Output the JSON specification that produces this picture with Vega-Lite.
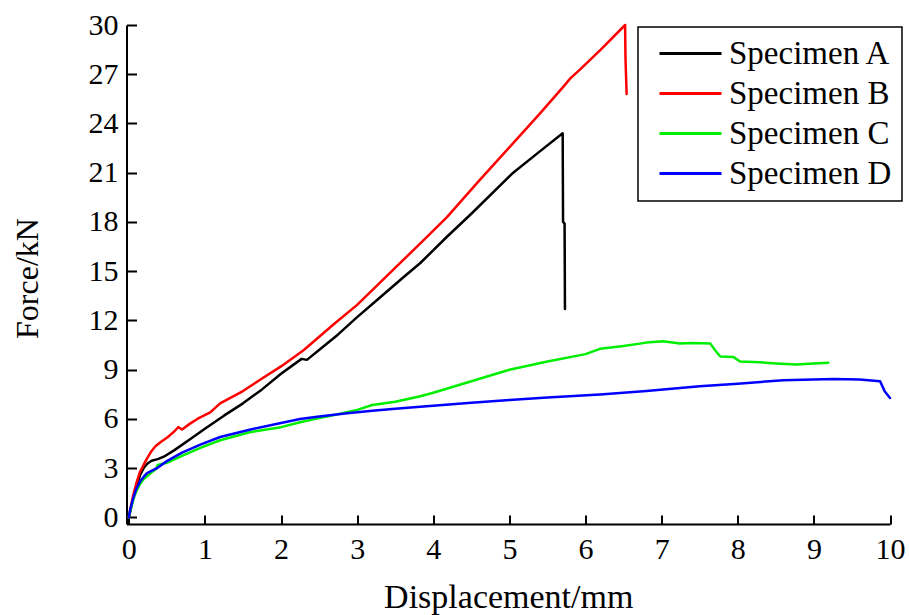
{
  "$schema": "https://vega.github.io/schema/vega-lite/v6.json",
  "autosize": "none",
  "width": 763.5,
  "height": 499,
  "padding": {"left": 126.5, "top": 25, "right": 19, "bottom": 91},
  "background": "white",
  "config": {
    "view": {"stroke": null},
    "font": "Liberation Serif",
    "axis": {"grid": false, "domainColor": "black", "domainWidth": 2, "tickColor": "black", "tickWidth": 2, "labelColor": "black", "titleColor": "black", "labelFont": "Liberation Serif", "titleFont": "Liberation Serif", "labelFontSize": 30, "titleFontWeight": "normal"}
  },
  "data": {"values": [
    {"s":"Specimen A","x":0,"y":0},{"s":"Specimen A","x":0.02,"y":0.4},{"s":"Specimen A","x":0.06,"y":1.2},{"s":"Specimen A","x":0.1,"y":1.9},{"s":"Specimen A","x":0.15,"y":2.6},{"s":"Specimen A","x":0.2,"y":3.05},{"s":"Specimen A","x":0.25,"y":3.3},{"s":"Specimen A","x":0.3,"y":3.45},{"s":"Specimen A","x":0.38,"y":3.55},{"s":"Specimen A","x":0.46,"y":3.7},{"s":"Specimen A","x":0.6,"y":4.1},{"s":"Specimen A","x":0.8,"y":4.75},{"s":"Specimen A","x":1.0,"y":5.4},{"s":"Specimen A","x":1.25,"y":6.2},{"s":"Specimen A","x":1.5,"y":6.95},{"s":"Specimen A","x":1.75,"y":7.8},{"s":"Specimen A","x":2.0,"y":8.75},{"s":"Specimen A","x":2.27,"y":9.66},{"s":"Specimen A","x":2.34,"y":9.6},{"s":"Specimen A","x":2.5,"y":10.2},{"s":"Specimen A","x":2.75,"y":11.15},{"s":"Specimen A","x":3.0,"y":12.2},{"s":"Specimen A","x":3.3,"y":13.4},{"s":"Specimen A","x":3.6,"y":14.6},{"s":"Specimen A","x":3.83,"y":15.5},{"s":"Specimen A","x":4.18,"y":17.1},{"s":"Specimen A","x":4.5,"y":18.5},{"s":"Specimen A","x":5.05,"y":21.0},{"s":"Specimen A","x":5.4,"y":22.3},{"s":"Specimen A","x":5.7,"y":23.4},{"s":"Specimen A","x":5.705,"y":18.0},{"s":"Specimen A","x":5.725,"y":17.9},{"s":"Specimen A","x":5.73,"y":12.7},
    {"s":"Specimen B","x":0,"y":0},{"s":"Specimen B","x":0.02,"y":0.5},{"s":"Specimen B","x":0.06,"y":1.4},{"s":"Specimen B","x":0.1,"y":2.1},{"s":"Specimen B","x":0.15,"y":2.8},{"s":"Specimen B","x":0.2,"y":3.25},{"s":"Specimen B","x":0.24,"y":3.6},{"s":"Specimen B","x":0.3,"y":4.05},{"s":"Specimen B","x":0.35,"y":4.34},{"s":"Specimen B","x":0.42,"y":4.6},{"s":"Specimen B","x":0.5,"y":4.85},{"s":"Specimen B","x":0.6,"y":5.25},{"s":"Specimen B","x":0.65,"y":5.5},{"s":"Specimen B","x":0.7,"y":5.36},{"s":"Specimen B","x":0.8,"y":5.7},{"s":"Specimen B","x":0.9,"y":6.0},{"s":"Specimen B","x":1.07,"y":6.4},{"s":"Specimen B","x":1.2,"y":6.95},{"s":"Specimen B","x":1.5,"y":7.7},{"s":"Specimen B","x":1.73,"y":8.4},{"s":"Specimen B","x":2.0,"y":9.2},{"s":"Specimen B","x":2.3,"y":10.2},{"s":"Specimen B","x":2.7,"y":11.8},{"s":"Specimen B","x":3.0,"y":12.95},{"s":"Specimen B","x":3.3,"y":14.3},{"s":"Specimen B","x":3.83,"y":16.7},{"s":"Specimen B","x":4.18,"y":18.3},{"s":"Specimen B","x":4.6,"y":20.5},{"s":"Specimen B","x":5.05,"y":22.8},{"s":"Specimen B","x":5.4,"y":24.6},{"s":"Specimen B","x":5.71,"y":26.25},{"s":"Specimen B","x":5.8,"y":26.75},{"s":"Specimen B","x":5.93,"y":27.3},{"s":"Specimen B","x":6.2,"y":28.5},{"s":"Specimen B","x":6.52,"y":30.0},{"s":"Specimen B","x":6.525,"y":28.0},{"s":"Specimen B","x":6.54,"y":25.8},
    {"s":"Specimen C","x":0,"y":0},{"s":"Specimen C","x":0.02,"y":0.4},{"s":"Specimen C","x":0.06,"y":1.1},{"s":"Specimen C","x":0.1,"y":1.6},{"s":"Specimen C","x":0.15,"y":2.05},{"s":"Specimen C","x":0.2,"y":2.35},{"s":"Specimen C","x":0.24,"y":2.5},{"s":"Specimen C","x":0.3,"y":2.75},{"s":"Specimen C","x":0.36,"y":2.95},{"s":"Specimen C","x":0.38,"y":3.2},{"s":"Specimen C","x":0.5,"y":3.33},{"s":"Specimen C","x":0.7,"y":3.75},{"s":"Specimen C","x":0.94,"y":4.24},{"s":"Specimen C","x":1.2,"y":4.7},{"s":"Specimen C","x":1.6,"y":5.2},{"s":"Specimen C","x":2.0,"y":5.5},{"s":"Specimen C","x":2.25,"y":5.8},{"s":"Specimen C","x":2.5,"y":6.05},{"s":"Specimen C","x":2.73,"y":6.27},{"s":"Specimen C","x":3.0,"y":6.55},{"s":"Specimen C","x":3.2,"y":6.85},{"s":"Specimen C","x":3.5,"y":7.05},{"s":"Specimen C","x":3.83,"y":7.38},{"s":"Specimen C","x":4.0,"y":7.6},{"s":"Specimen C","x":4.5,"y":8.3},{"s":"Specimen C","x":5.0,"y":9.0},{"s":"Specimen C","x":5.5,"y":9.5},{"s":"Specimen C","x":6.0,"y":9.95},{"s":"Specimen C","x":6.19,"y":10.27},{"s":"Specimen C","x":6.5,"y":10.45},{"s":"Specimen C","x":6.8,"y":10.65},{"s":"Specimen C","x":7.02,"y":10.73},{"s":"Specimen C","x":7.24,"y":10.59},{"s":"Specimen C","x":7.4,"y":10.62},{"s":"Specimen C","x":7.64,"y":10.59},{"s":"Specimen C","x":7.7,"y":10.2},{"s":"Specimen C","x":7.77,"y":9.8},{"s":"Specimen C","x":7.94,"y":9.78},{"s":"Specimen C","x":8.03,"y":9.5},{"s":"Specimen C","x":8.29,"y":9.45},{"s":"Specimen C","x":8.5,"y":9.38},{"s":"Specimen C","x":8.77,"y":9.31},{"s":"Specimen C","x":9.0,"y":9.38},{"s":"Specimen C","x":9.19,"y":9.42},
    {"s":"Specimen D","x":0,"y":0},{"s":"Specimen D","x":0.02,"y":0.5},{"s":"Specimen D","x":0.06,"y":1.2},{"s":"Specimen D","x":0.1,"y":1.75},{"s":"Specimen D","x":0.15,"y":2.2},{"s":"Specimen D","x":0.2,"y":2.5},{"s":"Specimen D","x":0.24,"y":2.7},{"s":"Specimen D","x":0.37,"y":3.0},{"s":"Specimen D","x":0.5,"y":3.43},{"s":"Specimen D","x":0.7,"y":3.95},{"s":"Specimen D","x":0.94,"y":4.44},{"s":"Specimen D","x":1.2,"y":4.9},{"s":"Specimen D","x":1.6,"y":5.36},{"s":"Specimen D","x":2.0,"y":5.75},{"s":"Specimen D","x":2.25,"y":6.0},{"s":"Specimen D","x":2.5,"y":6.15},{"s":"Specimen D","x":2.87,"y":6.35},{"s":"Specimen D","x":3.2,"y":6.5},{"s":"Specimen D","x":3.5,"y":6.62},{"s":"Specimen D","x":3.83,"y":6.74},{"s":"Specimen D","x":4.5,"y":6.98},{"s":"Specimen D","x":5.0,"y":7.15},{"s":"Specimen D","x":5.5,"y":7.3},{"s":"Specimen D","x":6.19,"y":7.49},{"s":"Specimen D","x":6.8,"y":7.7},{"s":"Specimen D","x":7.5,"y":7.99},{"s":"Specimen D","x":8.0,"y":8.15},{"s":"Specimen D","x":8.6,"y":8.36},{"s":"Specimen D","x":9.26,"y":8.44},{"s":"Specimen D","x":9.6,"y":8.4},{"s":"Specimen D","x":9.87,"y":8.3},{"s":"Specimen D","x":9.93,"y":7.69},{"s":"Specimen D","x":10.0,"y":7.28}
  ]},
  "mark": {"type": "line", "strokeWidth": 2.5, "strokeJoin": "round", "strokeCap": "round"},
  "encoding": {
    "x": {"field": "x", "type": "quantitative", "scale": {"domain": [-0.03, 10], "nice": false, "zero": false},
      "axis": {"values": [0,1,2,3,4,5,6,7,8,9,10], "tickSize": -9, "labelPadding": 19, "labelFlush": false, "title": "Displacement/mm", "titleFontSize": 34, "titleBaseline": "alphabetic", "titleY": 83}},
    "y": {"field": "y", "type": "quantitative", "scale": {"domain": [-0.4, 30], "nice": false, "zero": false},
      "axis": {"values": [0,3,6,9,12,15,18,21,24,27,30], "tickSize": -10, "labelPadding": 18.5, "labelFlush": false, "title": "Force/kN", "titleFontSize": 32, "titleAngle": -90, "titleBaseline": "alphabetic", "titleAlign": "center", "titleX": -89.5, "titleY": 253}},
    "color": {"field": "s", "type": "nominal",
      "scale": {"domain": ["Specimen A","Specimen B","Specimen C","Specimen D"], "range": ["#000000","#ff0000","#00ee00","#0000ff"]},
      "legend": {"title": null, "orient": "none", "legendX": 511.5, "legendY": 2, "symbolType": "M0,0H6", "symbolSize": 427, "symbolStrokeWidth": 3, "symbolOffset": -5, "labelFontSize": 33, "labelLimit": 400, "labelFont": "Liberation Serif", "labelColor": "black", "labelOffset": 53, "rowPadding": 6, "padding": 10, "strokeColor": "black", "fillColor": "white",
        "encode": {"legend": {"update": {"strokeWidth": {"value": 1.5}}}}}}
  }
}
